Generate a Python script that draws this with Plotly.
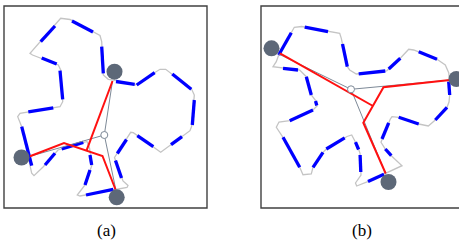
import plotly.graph_objects as go

W, H = 459, 242

# ---------------- Panel (a) data (pixel-like coordinates) ----------------
outline_a = [(113.3,80),(108.3,79.3),(103.3,75),(101.7,41.7),(100,35.5),(70,19.5),(60.7,18.3),
             (30,53.3),(32.5,55),(58.3,65),(60.7,70),(62.7,101.7),(60,106.7),(20,113.3),(17.7,116.7),
             (21.7,126.7),(31.7,173.3),(34,175.7),(43.3,166.7),(58,150),(87,141.5),(89.5,148),(92,165),
             (85,185),(77.3,195),(80,196),(113,190),(117,189.5),(127,187.5),(128,185.5),(123,181),
             (114.5,157.5),(130.7,132.3),(133.3,132.7),(160.7,152.3),(190,130.7),(191.7,126),(194.3,95),
             (191.7,89.3),(165.7,69.3),(160,69.3),(135,85),(113.3,80)]

blue_a = [(40.7,41.7,55,26),(72,21,93,32),(101.7,46.7,103.3,73.3),(41.7,58,56.7,64),
          (60,70.7,62.7,99.3),(28.3,111.9,53.3,107.8),(21.7,126.7,31.7,165.7),(45,165,55,153.3),
          (61.7,149,83.3,142.3),(90,155,91.7,165),(85,185,90,170),(86,195,113.3,189.3),
          (115.5,160.5,121.5,178),(117.3,153.5,126.5,139.5),(137.3,135.7,153.3,146.7),
          (171,144.7,182,136.6),(194.3,100,192.3,125),(172.3,74,191.3,89.3),(136.7,85,154.7,72.7),
          (116,81.5,134.7,84.3)]

nodes_a_x = [114.5, 21.5, 116.7]
nodes_a_y = [71.7, 157.5, 197.3]
center_a = (104.3, 135)
attach_a = [(112.5,81),(30,156.3),(115.7,189)]
red_a = [[(30,156.3),(64,143),(102.5,156),(115.5,189.5)],
         [(112.5,81),(86.5,150.6)]]

# ---------------- Panel (b) data ----------------
outline_b = [(278.7,55),(291.3,32.7),(294.3,27.3),(301.7,26.5),(328,31.7),(339.7,33.3),(341.3,38.3),
             (347.3,66.7),(349.7,70),(356.3,74),(386.7,70.8),(400.3,58.3),(408.7,49.3),(413.7,50),
             (437,59.3),(445.3,65),(448.7,72.7),(449.5,80),(449.7,95),(449,102),(447,107.3),
             (435.3,120),(428.3,126),(418.7,124),(398.7,117.3),(392,116.7),(390.3,119),(382,139),
             (381,142.3),(385.3,149),(391.3,155.7),(402,165.7),(386,173.5),(367.7,181.7),(356.7,186),
             (355.5,183),(361,175),(360,153.3),(357.5,146),(351.7,135),(347,136.5),(326.3,149),
             (323,152.3),(313,167.3),(311.3,174),(303,174.7),(299.7,167.3),(283,137.3),(276.3,127.3),
             (279,122),(289.7,120.7),(313,110),(317,106),(315.3,100),(311.3,95),(306.3,76.7),
             (299.7,70),(283,68.3),(273,66.7),(276.3,61.7),(278.7,55)]

blue_b = [(278.7,55,291.3,32.7),(304.7,27.1,328,31.7),(342.5,44,347.3,66.7),(358.7,73.8,385.3,71),
          (388.7,69,400.3,58.3),(418.7,51.7,437,59.3),(448.7,81.7,449.7,95),(447,107.3,435.3,120),
          (418.7,124,398.7,117.3),(388.7,122.9,382,139),(385.3,149,391.3,155.7),(384,174.3,368,181.6),
          (360.8,172,360.1,155),(358.6,149.5,355.5,142.2),(344.7,137.9,326.3,149),(323,152.3,313,167.3),
          (299.7,167.3,283,137.3),(289.7,120.7,313,110),(315.5,101,316.8,105.5),(311.3,95,306.3,76.7),
          (298,70,283,68.3)]

nodes_b_x = [271.5, 456.5, 388.5]
nodes_b_y = [48.3, 79, 182]
center_b = (351, 89.3)
attach_b = [(278.7,54),(450,80),(385.5,173.5)]
red_b = [[(280,53.3),(373,106)],
         [(450,80),(383.5,87.3),(363.3,122.7),(385.7,173.5)]]

labels = ["(a)", "(b)"]
label_x = [106, 361.7]

# ---------------- build ----------------
GREY_OUT = "#c4c4c4"
TREE = "#7d8997"
NODE = "#5d6878"

fig = go.Figure()

def segs_to_xy(segs):
    xs, ys = [], []
    for x0, y0, x1, y1 in segs:
        xs += [x0, x1, None]
        ys += [y0, y1, None]
    return xs, ys

def add_panel(outline, blue, nx, ny, center, attach, red, xa, ya):
    fig.add_trace(go.Scatter(x=[p[0] for p in outline], y=[p[1] for p in outline], mode="lines",
                             line=dict(color=GREY_OUT, width=1.3), xaxis=xa, yaxis=ya, hoverinfo="skip"))
    bx, by = segs_to_xy(blue)
    fig.add_trace(go.Scatter(x=bx, y=by, mode="lines", line=dict(color="#0000ff", width=3.3),
                             xaxis=xa, yaxis=ya, hoverinfo="skip"))
    tx, ty = [], []
    for a in attach:
        tx += [center[0], a[0], None]
        ty += [center[1], a[1], None]
    fig.add_trace(go.Scatter(x=tx, y=ty, mode="lines", line=dict(color=TREE, width=1),
                             xaxis=xa, yaxis=ya, hoverinfo="skip"))
    rx, ry = [], []
    for path in red:
        rx += [p[0] for p in path] + [None]
        ry += [p[1] for p in path] + [None]
    fig.add_trace(go.Scatter(x=rx, y=ry, mode="lines", line=dict(color="#ff1010", width=2),
                             xaxis=xa, yaxis=ya, hoverinfo="skip"))
    fig.add_trace(go.Scatter(x=[center[0]], y=[center[1]], mode="markers",
                             marker=dict(size=7, color="white", line=dict(color=TREE, width=1)),
                             xaxis=xa, yaxis=ya, hoverinfo="skip"))
    fig.add_trace(go.Scatter(x=nx, y=ny, mode="markers",
                             marker=dict(size=16, color=NODE, line=dict(width=0)),
                             xaxis=xa, yaxis=ya, hoverinfo="skip"))

add_panel(outline_a, blue_a, nodes_a_x, nodes_a_y, center_a, attach_a, red_a, "x", "y")
add_panel(outline_b, blue_b, nodes_b_x, nodes_b_y, center_b, attach_b, red_b, "x2", "y2")

top, bot = 6, 208
ydom = [(H - bot) / H, (H - top) / H]
ax_common = dict(visible=False, showgrid=False, zeroline=False, fixedrange=True)

fig.update_layout(
    width=W, height=H, margin=dict(l=0, r=0, t=0, b=0),
    paper_bgcolor="white", plot_bgcolor="white", showlegend=False,
    xaxis=dict(domain=[4 / W, 207 / W], range=[4, 207], **ax_common),
    yaxis=dict(domain=ydom, range=[bot, top], **ax_common),
    xaxis2=dict(domain=[261 / W, 1], range=[261, 459], anchor="y2", **ax_common),
    yaxis2=dict(domain=ydom, range=[bot, top], anchor="x2", **ax_common),
    shapes=[
        dict(type="rect", xref="paper", yref="paper", x0=4 / W, x1=207 / W, y0=ydom[0], y1=ydom[1],
             line=dict(color="#404040", width=1.4), layer="above"),
        dict(type="rect", xref="paper", yref="paper", x0=261 / W, x1=1.05, y0=ydom[0], y1=ydom[1],
             line=dict(color="#404040", width=1.4), layer="above"),
    ],
)

for t, lx in zip(labels, label_x):
    fig.add_annotation(text=t, x=lx / W, y=(H - 230) / H, xref="paper", yref="paper",
                       showarrow=False, xanchor="center", yanchor="middle",
                       font=dict(family="Liberation Serif, Times New Roman, serif", size=17, color="black"))

fig.write_html("out.html", config={"displayModeBar": False},
               post_script="document.body.style.margin='0';document.body.style.overflow='hidden';")
